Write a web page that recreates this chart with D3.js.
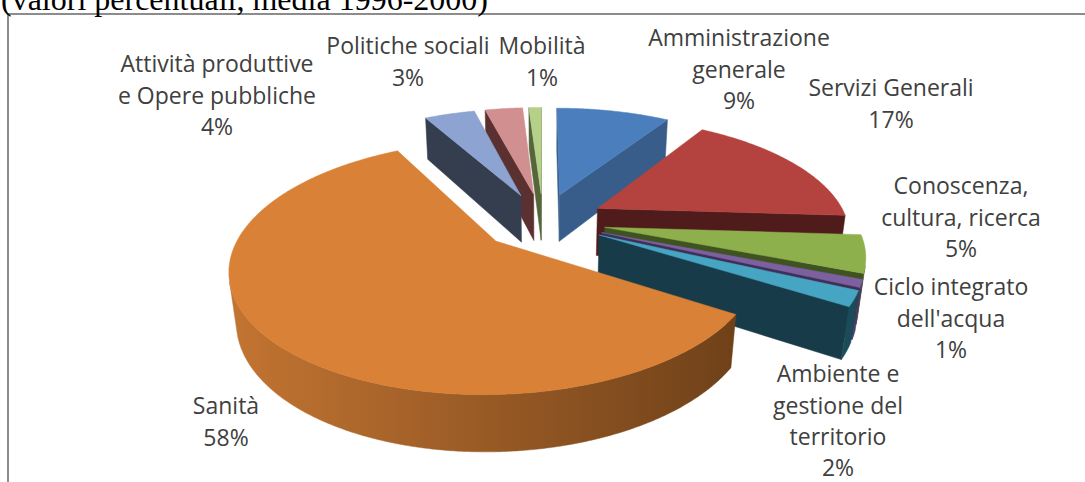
<!DOCTYPE html>
<html>
<head>
<meta charset="utf-8">
<script src="https://cdn.jsdelivr.net/npm/d3@7"></script>
<style>
  body { margin: 0; background: #fff; }
  svg { display: block; }
  .lbl { font-family: "Open Sans", sans-serif; font-size: 23px; fill: #404040; }
  .title { font-family: "Liberation Serif", "Times New Roman", serif; font-size: 32px; fill: #000; }
</style>
</head>
<body>
<svg id="chart" width="1085" height="482"></svg>
<script>
// slices, clockwise from 12 o'clock
const categories = ["Amministrazione generale", "Servizi Generali", "Conoscenza, cultura, ricerca",
  "Ciclo integrato dell'acqua", "Ambiente e gestione del territorio", "Sanità",
  "Attività produttive e Opere pubbliche", "Politiche sociali", "Mobilità"];
const values = [9, 17, 5, 1, 2, 58, 4, 3, 1];
// how the label text is broken into lines
const labelLines = [
  ["Amministrazione", "generale"],
  ["Servizi Generali"],
  ["Conoscenza,", "cultura, ricerca"],
  ["Ciclo integrato", "dell'acqua"],
  ["Ambiente e", "gestione del", "territorio"],
  ["Sanità"],
  ["Attività produttive", "e Opere pubbliche"],
  ["Politiche sociali"],
  ["Mobilità"]
];
const titleText = "(valori percentuali, media 1996-2000)";

// colours: top face, radial side, outer wall (light -> dark)
const topColors  = ["#4b7ebc", "#b4423f", "#8daf4c", "#7c60a0", "#45a5c2", "#d98137", "#8da3d1", "#d28f8f", "#b4d089"];
const sideColors = ["#385d8a", "#501c1b", "#3e5320", "#3f2e57", "#183b49", "#8a4e1e", "#343e4f", "#5b3030", "#55663a"];
const wallColors = [["#4a74a8", "#2f4f78"], ["#8e3533", "#5c2220"], ["#6f8c3a", "#4a6024"], ["#6a5290", "#4a3866"],
  ["#2f7a8e", "#1a4a58"], ["#c47532", "#5a3413"], ["#6c80a8", "#3e4a66"], ["#a86a6a", "#6a3a3a"], ["#8aa468", "#5a6c40"]];

// label placement (centre x, centre y of first line) and line step
const labelAt = [[739, 38], [891, 88], [961, 186], [951, 287], [838, 374], [226, 406], [217, 64], [408, 46], [542, 46]];
const lineStep = 31.3;

// 3D pie geometry (unit radius) and camera
const cx = 543, cy = 221, focal = 1114, dist = 4.455, elev = 27 * Math.PI / 180;
const explode = 0.25, depth = 0.22;
const ce = Math.cos(elev), se = Math.sin(elev);
const cam = { x: 0, z: dist * ce, y: dist * se };

const svg = d3.select("#chart");

// chart frame (runs off the right and bottom edge)
svg.append("rect")
  .attr("x", 8).attr("y", 14)
  .attr("width", 1100).attr("height", 500)
  .attr("fill", "none").attr("stroke", "#8c8c8c").attr("stroke-width", 2);

svg.append("text").attr("class", "title")
  .attr("x", 1).attr("y", 10)
  .text(titleText);

const pie = d3.pie().sort(null).value(d => d)
  .startAngle(0).endAngle(2 * Math.PI);
const arcs = pie(values);

// world point: angle a (clockwise from back), radius r, height y, slice offset
function world(a, r, y, off) {
  return { x: off.x + r * Math.sin(a), z: off.z - r * Math.cos(a), y: y };
}
function project(p) {
  const yc = p.y * ce - p.z * se;
  const dc = dist - (p.z * ce + p.y * se);
  return [cx + focal * p.x / dc, cy - focal * yc / dc];
}
function camDist(p) {
  return dist - (p.z * ce + p.y * se);
}

const line = d3.line();
const defs = svg.append("defs");

const slices = arcs.map((d, i) => {
  const mid = (d.startAngle + d.endAngle) / 2;
  const off = { x: explode * Math.sin(mid), z: -explode * Math.cos(mid) };
  const c = world(mid, 0.5, 0, off);
  return { d, i, mid, off, key: camDist(c) };
});
// far slices first
slices.sort((a, b) => b.key - a.key);

const g = svg.append("g");

slices.forEach(s => {
  const { d, i, off } = s;
  const a0 = d.startAngle, a1 = d.endAngle;
  const n = Math.max(2, Math.ceil((a1 - a0) / (Math.PI / 360)));
  const ts = d3.range(n + 1).map(k => a0 + (a1 - a0) * k / n);
  const sg = g.append("g").attr("class", "slice").attr("data-name", categories[i]);

  const grad = defs.append("linearGradient")
    .attr("id", "wall" + i).attr("gradientUnits", "userSpaceOnUse")
    .attr("x1", cx - 320).attr("x2", cx + 320).attr("y1", 0).attr("y2", 0);
  grad.append("stop").attr("offset", 0).attr("stop-color", wallColors[i][0]);
  grad.append("stop").attr("offset", 1).attr("stop-color", wallColors[i][1]);

  // radial sides, drawn only when facing the camera
  const apexT = world(0, 0, 0, off), apexB = world(0, 0, -depth, off);
  [[a0, -1], [a1, 1]].forEach(([a, sgn]) => {
    const nx = sgn * Math.cos(a), nz = sgn * Math.sin(a);
    const dot = nx * (cam.x - off.x) + nz * (cam.z - off.z);
    if (dot <= 0) return;
    const pts = [apexT, world(a, 1, 0, off), world(a, 1, -depth, off), apexB].map(project);
    sg.append("path").attr("d", line(pts) + "Z")
      .attr("fill", sideColors[i]).attr("stroke", sideColors[i]).attr("stroke-width", 0.5);
  });

  // outer wall: visible runs only
  const runs = [];
  let cur = null;
  for (let k = 0; k < n; k++) {
    const t = (ts[k] + ts[k + 1]) / 2;
    const p = world(t, 1, 0, off);
    const dot = Math.sin(t) * (cam.x - p.x) - Math.cos(t) * (cam.z - p.z);
    if (dot > 0) {
      if (!cur) { cur = [ts[k]]; runs.push(cur); }
      cur.push(ts[k + 1]);
    } else cur = null;
  }
  runs.forEach(run => {
    const topPts = run.map(t => project(world(t, 1, 0, off)));
    const botPts = run.slice().reverse().map(t => project(world(t, 1, -depth, off)));
    sg.append("path").attr("d", line(topPts.concat(botPts)) + "Z")
      .attr("fill", `url(#wall${i})`).attr("stroke", `url(#wall${i})`).attr("stroke-width", 0.5);
  });

  // top face
  const topPts = [project(apexT)].concat(ts.map(t => project(world(t, 1, 0, off))));
  sg.append("path").attr("d", line(topPts) + "Z")
    .attr("fill", topColors[i]).attr("stroke", topColors[i]).attr("stroke-width", 0.5);
});

// data labels
const lg = svg.append("g");
arcs.forEach((d, i) => {
  const lines = labelLines[i].concat([values[i] + "%"]);
  const t = lg.append("text").attr("class", "lbl").attr("text-anchor", "middle");
  lines.forEach((s, k) => {
    t.append("tspan")
      .attr("x", labelAt[i][0])
      .attr("y", labelAt[i][1] + k * lineStep)
      .attr("dy", "0.36em")
      .text(s);
  });
});
</script>
</body>
</html>
